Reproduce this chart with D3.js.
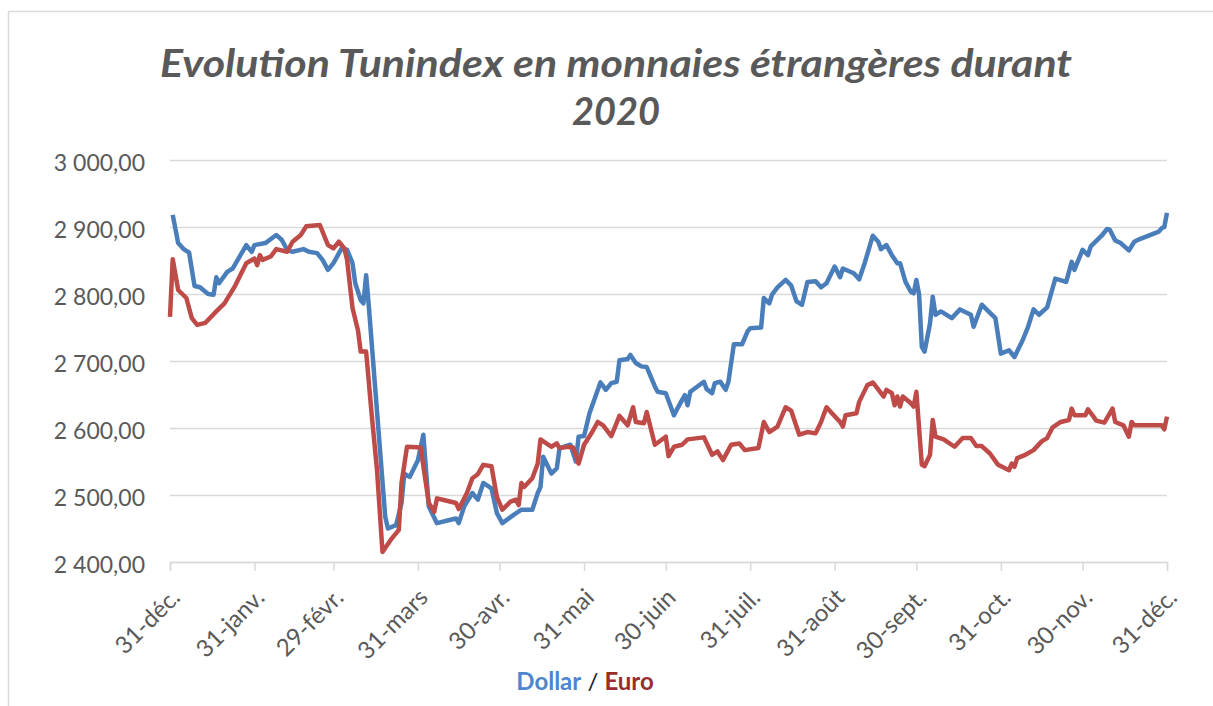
<!DOCTYPE html>
<html><head><meta charset="utf-8">
<script src="https://cdn.jsdelivr.net/npm/d3@7"></script>
<style>body{margin:0;background:#fff;}svg{display:block}</style>
</head><body><svg id="c" width="1213" height="706"></svg>
<script>
const titleLines = ["Evolution Tunindex en monnaies étrangères durant", "2020"];
const yTicks = [2400, 2500, 2600, 2700, 2800, 2900, 3000];
const monthTicks = ["2019-12-31","2020-01-31","2020-02-29","2020-03-31","2020-04-30","2020-05-31","2020-06-30","2020-07-31","2020-08-31","2020-09-30","2020-10-31","2020-11-30","2020-12-31"];
const monthLabels = ["31-déc.","31-janv.","29-févr.","31-mars","30-avr.","31-mai","30-juin","31-juil.","31-août","30-sept.","31-oct.","30-nov.","31-déc."];
const seriesNames = ["Dollar", "Euro"];

// day offsets from 31-déc.-2019
const dollarDay = [1,3,5,7,9,11,14,16,17,18,21,23,28,30,31,35,39,41,43,45,49,51,54,56,58,60,63,65,67,68,70,71,72,73,79,80,83,85,86,88,91,93,95,98,103,105,106,108,111,113,115,118,120,122,126,129,133,135,136,137,140,142,143,147,149,150,152,154,158,160,162,164,165,168,169,171,173,175,178,179,182,185,186,188,189,190,191,192,196,197,199,200,202,204,205,207,210,212,213,217,218,220,221,223,226,228,230,232,234,237,239,241,244,246,247,251,253,255,258,260,261,263,265,267,268,270,272,273,274,275,276,277,279,280,281,283,287,290,294,295,298,300,303,305,308,310,313,315,317,319,322,325,329,331,332,335,337,338,342,344,345,347,349,352,354,356,363,364,365,366];
const dollarValue = [2918,2876,2867,2862,2812,2810,2800,2799,2825,2816,2833,2838,2873,2863,2873,2876,2888,2881,2866,2863,2867,2863,2861,2851,2836,2846,2868,2866,2846,2816,2791,2786,2828,2781,2468,2450,2455,2488,2532,2527,2552,2590,2483,2458,2463,2465,2458,2483,2503,2493,2518,2510,2473,2458,2470,2478,2478,2503,2512,2557,2532,2540,2570,2575,2550,2587,2588,2622,2668,2657,2667,2669,2701,2703,2709,2697,2692,2691,2662,2654,2652,2619,2627,2642,2649,2634,2654,2657,2669,2658,2652,2667,2669,2657,2669,2725,2725,2744,2749,2750,2794,2786,2799,2810,2821,2813,2789,2784,2818,2819,2810,2816,2841,2825,2838,2831,2822,2846,2887,2878,2867,2873,2858,2846,2846,2818,2803,2801,2821,2799,2721,2714,2756,2796,2769,2774,2764,2777,2769,2751,2784,2776,2764,2711,2716,2706,2731,2751,2777,2769,2780,2823,2818,2848,2836,2866,2858,2871,2887,2897,2896,2880,2876,2865,2878,2882,2893,2898,2900,2921];

const euroDay = [0,1,3,6,8,10,13,17,20,24,28,31,32,33,34,37,39,43,45,48,50,55,56,58,60,62,64,65,67,69,70,72,74,76,78,81,84,85,87,92,95,97,98,102,105,106,109,111,113,115,118,120,122,125,127,128,129,130,133,135,136,140,142,143,146,148,150,152,155,157,159,162,165,168,170,171,174,175,178,182,183,185,188,190,196,199,201,203,206,209,211,216,218,220,223,226,228,231,234,237,239,241,243,246,247,248,252,253,256,258,262,263,265,266,267,268,269,272,273,274,276,277,279,280,281,284,288,291,294,296,298,301,304,308,309,310,311,314,317,320,322,324,327,330,331,332,336,337,339,340,343,346,347,350,352,353,354,364,365,366];
const euroValue = [2766,2852,2806,2794,2764,2754,2757,2774,2786,2813,2846,2853,2843,2858,2851,2856,2867,2863,2878,2888,2901,2903,2893,2873,2868,2878,2868,2851,2779,2746,2714,2714,2622,2537,2415,2433,2448,2518,2572,2571,2488,2475,2495,2491,2488,2479,2503,2525,2531,2545,2543,2497,2478,2490,2493,2485,2518,2512,2525,2547,2583,2572,2577,2570,2572,2571,2547,2575,2594,2609,2604,2588,2618,2604,2631,2609,2607,2624,2575,2587,2558,2572,2575,2583,2586,2560,2565,2552,2575,2577,2567,2570,2609,2594,2602,2631,2626,2590,2594,2592,2609,2631,2622,2609,2602,2619,2622,2639,2664,2668,2647,2657,2652,2634,2647,2632,2647,2637,2632,2654,2545,2543,2560,2612,2587,2583,2572,2585,2585,2573,2573,2562,2545,2537,2547,2542,2555,2560,2567,2580,2585,2601,2609,2612,2629,2619,2619,2628,2617,2611,2608,2629,2609,2604,2587,2609,2604,2604,2598,2617];

const FONT = "Lato, 'Open Sans', sans-serif";
const svg = d3.select("#c");
const parse = d3.timeParse("%Y-%m-%d");
const start = parse("2019-12-31");
const monthDates = monthTicks.map(parse);

const x = d3.scaleTime().domain([start, parse("2020-12-31")]).range([170, 1167]);
const y = d3.scaleLinear().domain([2400, 3000]).range([562, 160]);

svg.append("rect").attr("width", 1213).attr("height", 706).attr("fill", "#fff");
svg.append("rect").attr("x", 8.5).attr("y", 11.5).attr("width", 1230).attr("height", 720)
  .attr("fill", "none").attr("stroke", "#d9d9d9").attr("stroke-width", 1.5);

// title
const titleWidths = [912, 88];
svg.append("g").selectAll("text").data(titleLines).join("text")
  .attr("x", 616).attr("y", (d, i) => 77 + i * 48)
  .attr("text-anchor", "middle")
  .attr("textLength", (d, i) => titleWidths[i]).attr("lengthAdjust", "spacingAndGlyphs")
  .attr("font-family", FONT).attr("font-weight", "bold").attr("font-style", "italic")
  .attr("font-size", 39).attr("fill", "#595959")
  .text(d => d);

const loc = d3.formatLocale({decimal: ",", thousands: " ", grouping: [3], currency: ["", ""]});
const fmt = loc.format(",.2f");

// y axis + gridlines
const gy = svg.append("g").attr("transform", "translate(170,0)")
  .call(d3.axisLeft(y).tickValues(yTicks).tickSize(-997).tickPadding(25).tickFormat(fmt));
gy.select(".domain").remove();
gy.selectAll(".tick line").attr("stroke", "#d9d9d9").attr("stroke-width", 1.5);
gy.selectAll(".tick text").attr("font-family", FONT).attr("font-size", 23)
  .attr("fill", "#595959").attr("dy", "0.45em");

// x axis
const gx = svg.append("g").attr("transform", "translate(0,562)")
  .call(d3.axisBottom(x).tickValues(monthDates).tickSize(9).tickFormat((d, i) => monthLabels[i]));
gx.select(".domain").attr("stroke", "#d9d9d9").attr("stroke-width", 1.5);
gx.selectAll(".tick line").attr("stroke", "#d9d9d9").attr("stroke-width", 1.5);
gx.selectAll(".tick text")
  .attr("x", 0).attr("y", 0).attr("dy", 0)
  .attr("text-anchor", "end")
  .attr("transform", "translate(11,37) rotate(-45)")
  .attr("font-family", FONT).attr("font-size", 24).attr("fill", "#595959");

// lines
const line = d3.line().x(d => x(d3.timeDay.offset(start, d[0]))).y(d => y(d[1])).curve(d3.curveLinear);
const dollarPts = dollarDay.map((d, i) => [d, dollarValue[i]]);
const euroPts = euroDay.map((d, i) => [d, euroValue[i]]);
const colors = {Dollar: "#4a7ebb", Euro: "#be4b48"};
svg.append("path").datum(dollarPts).attr("d", line).attr("fill", "none")
  .attr("stroke", colors.Dollar).attr("stroke-width", 4.5).attr("stroke-linejoin", "round");
svg.append("path").datum(euroPts).attr("d", line).attr("fill", "none")
  .attr("stroke", colors.Euro).attr("stroke-width", 4.5).attr("stroke-linejoin", "round");

// legend text
const lg = svg.append("text").attr("x", 585).attr("y", 690).attr("text-anchor", "middle")
  .attr("font-family", FONT).attr("font-size", 24);
lg.append("tspan").attr("font-weight", "bold").attr("fill", "#4d86cf").text(seriesNames[0]);
lg.append("tspan").attr("fill", "#1a1a1a").text(" / ");
lg.append("tspan").attr("font-weight", "bold").attr("fill", "#9b2d2d").text(seriesNames[1]);
</script></body></html>
